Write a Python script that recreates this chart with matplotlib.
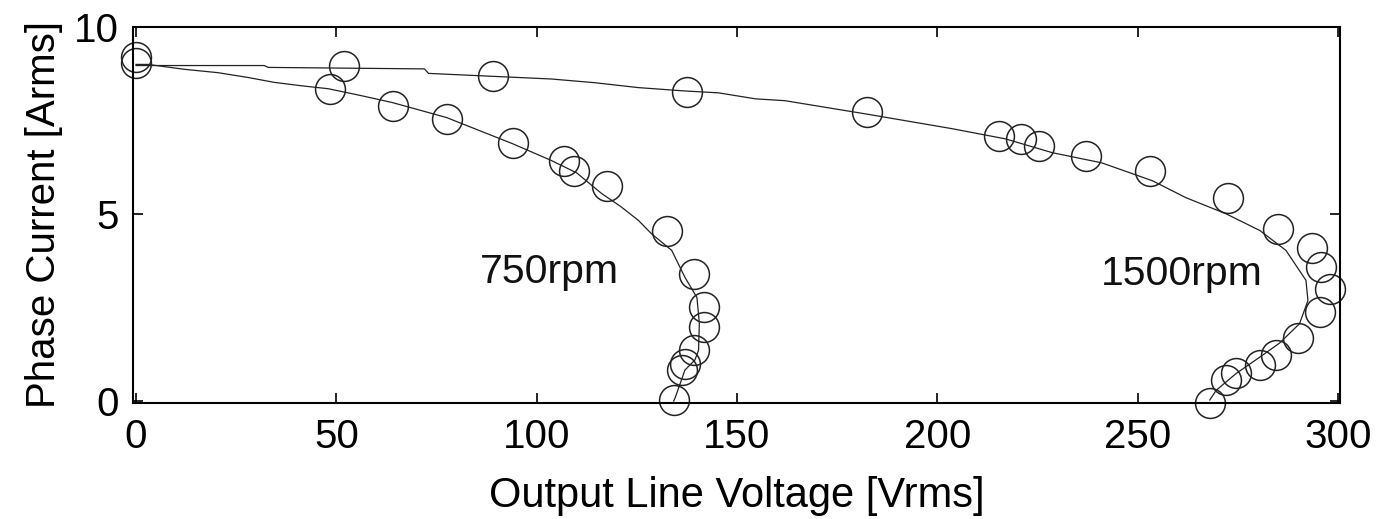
import matplotlib
matplotlib.use("Agg")
import matplotlib.pyplot as plt

plt.rcParams['font.family'] = ['Liberation Sans', 'DejaVu Sans']

# 750 rpm fitted curve
line750_x = [0, 3, 12, 20.4, 28, 34.5, 41.2, 48, 56, 64, 77.5, 94, 103.7, 110, 116.2, 121,
             125.4, 128.7, 133.7, 137, 140, 140.6, 140.4, 139.5, 137, 134.6, 134.2]
line750_y = [9.0, 9.0, 8.87, 8.78, 8.65, 8.52, 8.43, 8.35, 8.17, 7.98, 7.58, 6.88, 6.43, 6.1,
             5.55, 5.2, 4.83, 4.47, 4.03, 3.31, 2.77, 2.08, 1.36, 1.1, 0.83, 0.1, 0.0]
# 750 rpm measured points
meas750_x = [0, 48.3, 64.2, 77.5, 94.2, 106.7, 109.3, 117.5, 132.5, 139.3, 141.7, 141.7,
             139.2, 137, 136.3, 134.2]
meas750_y = [9.05, 8.35, 7.9, 7.55, 6.9, 6.43, 6.16, 5.76, 4.56, 3.41, 2.51, 1.97,
             1.36, 1.0, 0.83, 0.03]

# 1500 rpm fitted curve
line1500_x = [0, 32, 33, 72, 73, 103.7, 114.6, 125.4, 137, 145.4, 154.6, 162, 182.5, 203.8,
              217, 228.7, 241, 253.7, 262, 272, 280.5, 287, 292, 292.5, 290.4, 285.4, 280.4,
              274.6, 269.6, 268]
line1500_y = [8.97, 8.97, 8.92, 8.88, 8.76, 8.61, 8.51, 8.38, 8.29, 8.24, 8.08, 8.03, 7.67,
              7.28, 7.01, 6.64, 6.37, 5.89, 5.44, 5.01, 4.56, 4.03, 3.23, 2.69, 2.07, 1.55,
              1.17, 0.74, 0.29, 0.03]
# 1500 rpm measured points
meas1500_x = [0, 51.8, 89.2, 137.5, 182.5, 215.4, 220.9, 225.4, 237.2, 253, 272.5, 285,
              293.5, 295.8, 298, 295.4, 290, 284.6, 280.6, 274.6, 272, 268]
meas1500_y = [9.2, 8.96, 8.69, 8.25, 7.72, 7.09, 7.01, 6.83, 6.56, 6.14, 5.44, 4.61,
              4.08, 3.58, 3.01, 2.38, 1.68, 1.23, 0.96, 0.74, 0.56, -0.05]

labels = ["750rpm", "1500rpm"]
label_pos = [(103.3, 3.44), (261, 3.41)]

xticks = [0, 50, 100, 150, 200, 250, 300]
yticks = [0, 5, 10]

fig = plt.figure(figsize=(13.81, 5.19), dpi=100)
ax = fig.add_axes([133/1381, 1 - 403/519, (1340 - 133)/1381, (403 - 27)/519])

ax.plot(line750_x, line750_y, color='#222222', lw=0.9)
ax.plot(line1500_x, line1500_y, color='#222222', lw=0.9)
mk = dict(linestyle='none', marker='o', markersize=21.5, markerfacecolor='none',
          markeredgecolor='#222222', markeredgewidth=1.1, clip_on=False)
ax.plot(meas750_x, meas750_y, **mk)
ax.plot(meas1500_x, meas1500_y, **mk)

for t, (x, y) in zip(labels, label_pos):
    ax.text(x, y, t, fontsize=29.5, ha='center', va='center', color='#111111')

ax.set_xlim(-0.75, 300.5)
ax.set_ylim(-0.05, 10)
ax.set_xticks(xticks)
ax.set_yticks(yticks)
ax.tick_params(direction='in', length=7, width=1.2, top=True, right=True,
               labelsize=29, colors='black')
ax.tick_params(axis='x', pad=11)
ax.tick_params(axis='y', pad=10)
for s in ax.spines.values():
    s.set_linewidth(1.5)

ax.set_xlabel("Output Line Voltage [Vrms]", fontsize=30, labelpad=14)
ax.set_ylabel("Phase Current [Arms]", fontsize=29, labelpad=8)

fig.savefig("out.png", dpi=100)
